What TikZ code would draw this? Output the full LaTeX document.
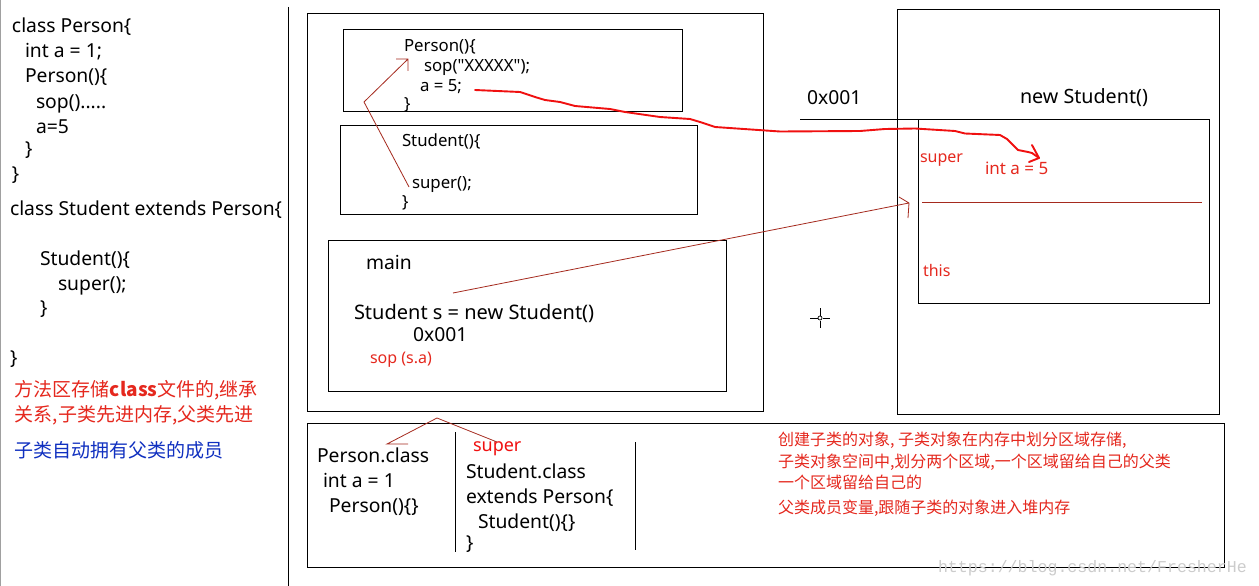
\documentclass[tikz,border=0pt]{standalone}
\usepackage{fontspec}
\setmainfont{Noto Sans}
\newfontfamily\latin{Noto Sans}
\newfontfamily\cjk{Noto Sans CJK SC}
\newfontfamily\wm{Liberation Mono}
\definecolor{inkred}{HTML}{E5281E}
\definecolor{penred}{HTML}{A52A1E}
\definecolor{brightred}{HTML}{F01010}
\definecolor{inkblue}{HTML}{1030C0}
\definecolor{edgegray}{HTML}{A0A0A0}
\definecolor{wmgray}{HTML}{CCCCCC}
\newcommand{\fs}[1]{\fontsize{#1}{#1}\selectfont}
\tikzset{
 x=1pt,y=-1pt,
 txt/.style={anchor=base west,inner sep=0pt,outer sep=0pt},
 code/.style={txt,font=\latin\fs{19.3},text=black},
 small/.style={txt,font=\latin\fs{16.8},text=black},
 redsmall/.style={txt,font=\latin\fs{16},text=inkred},
 zh/.style={txt,font=\cjk\fs{19},text=inkred},
 zhs/.style={txt,font=\cjk\fs{16},text=inkred},
 box/.style={draw=black,line width=1pt},
 pen/.style={draw=penred,line width=0.8pt},
 marker/.style={draw=brightred,line width=1.9pt,line join=round,line cap=round},
}
\begin{document}
\begin{tikzpicture}
\useasboundingbox (0,0) rectangle (1259,586);
\fill[white] (0,0) rectangle (1259,586);
\draw[edgegray,line width=1pt] (0.5,0) -- (0.5,586);
\coordinate (divT) at (288.5,7);
\coordinate (divB) at (288.5,586);
\draw[box] (divT) -- (divB);
% boxes
\draw[box] (307.5,13.5) rectangle (763.5,411.5);
\draw[box] (343.5,29.5) rectangle (682.5,111.5);
\draw[box] (340.5,125.5) rectangle (697.5,214.5);
\draw[box] (328.5,240.5) rectangle (726.5,391.5);
\draw[box] (897.5,9.5) rectangle (1219.5,414.5);
\draw[box] (918.5,119.5) rectangle (1209.5,303.5);
\draw[box] (307.5,423.5) rectangle (1224.5,567.5);
\coordinate (addrL) at (800,119.5);
\coordinate (addrR) at (918.5,119.5);
\draw[box] (addrL) -- (addrR);
\coordinate (v1T) at (455.5,432); \coordinate (v1B) at (455.5,552);
\coordinate (v2T) at (635.5,442); \coordinate (v2B) at (635.5,550);
\draw[box] (v1T) -- (v1B);
\draw[box] (v2T) -- (v2B);
% left code
\node[code] (l1) at (12,33) {class Person\{};
\node[code] (l2) at (25,58) {int a = 1;};
\node[code] (l3) at (25,83) {Person()\{};
\node[code] (l4) at (36,108) {sop().....};
\node[code] (l5) at (36,133) {a=5};
\node[code] (l6) at (25,155) {\}};
\node[code] (l7) at (12,180) {\}};
\node[code] (l8) at (10,215) {class Student extends Person\{};
\node[code] (l9) at (40,265) {Student()\{};
\node[code] (l10) at (58,290) {super();};
\node[code] (l11) at (40,314) {\}};
\node[code] (l12) at (10,364) {\}};
\node[zh] (z1) at (15,396) {方法区存储{\bfseries class}文件的,继承};
\node[zh] (z2) at (15,421) {关系,子类先进内存,父类先进};
\node[zh,text=inkblue] (z3) at (15,457) {子类自动拥有父类的成员};
% stack code
\node[small] (p1) at (404,52) {Person()\{};
\node[small] (p2) at (424,71) {sop("XXXXX");};
\node[small] (p3) at (420,92) {a = 5;};
\node[small] (p4) at (404,110) {\}};
\node[small] (s1) at (402,146) {Student()\{};
\node[small] (s2) at (412,188) {super();};
\node[small] (s3) at (402,207) {\}};
\node[code] (m1) at (366,269) {main};
\node[code,font=\latin\fs{20}] (m2) at (354,319) {Student s = new Student()};
\node[code] (m3) at (413,341) {0x001};
\node[redsmall] (m4) at (370,363) {sop (s.a)};
% heap
\node[code] (h1) at (807,105) {0x001};
\node[code,font=\latin\fs{19.7}] (h2) at (1020,103) {new Student()};
\node[redsmall] (h3) at (920,162) {super};
\node[redsmall,font=\latin\fs{17}] (h4) at (985,174) {int a = 5};
\node[redsmall] (h5) at (923,276) {this};
% method area
\node[code] (c1) at (317,462) {Person.class};
\node[code] (c2) at (323,487) {int a = 1};
\node[code] (c3) at (329,512) {Person()\{\}};
\node[txt,font=\latin\bfseries\fs{18},text=brightred] (c4) at (473,451) {super};
\node[code] (c5) at (466,478) {Student.class};
\node[code] (c6) at (466,503) {extends Person\{};
\node[code] (c7) at (478,528) {Student()\{\}};
\node[code] (c8) at (466,549) {\}};
\node[zhs] (n1) at (778,445) {创建子类的对象, 子类对象在内存中划分区域存储,};
\node[zhs] (n2) at (778,467) {子类对象空间中,划分两个区域,一个区域留给自己的父类};
\node[zhs] (n3) at (778,488) {一个区域留给自己的};
\node[zhs] (n4) at (778,513) {父类成员变量,跟随子类的对象进入堆内存};
% pen lines
\coordinate (a0) at (409,187); \coordinate (a1) at (364,102); \coordinate (a2) at (408,59);
\coordinate (a3) at (396,59); \coordinate (a4) at (408,71);
\draw[pen] (a0) -- (a1) -- (a2) (a3) -- (a2) -- (a4);
\coordinate (b0) at (453,293); \coordinate (b1) at (909,203);
\coordinate (b2) at (899,197); \coordinate (b3) at (908,218);
\draw[pen] (b0) -- (b1) (b2) -- (b1) -- (b3);
\coordinate (d0) at (922,202); \coordinate (d1) at (1202,202);
\draw[pen] (d0) -- (d1);
\coordinate (e0) at (497,442); \coordinate (e1) at (437,418); \coordinate (e2) at (387,444); \coordinate (e3) at (408,444);
\draw[pen] (e0) -- (e1) -- (e2) -- (e3);
% marker curve
\coordinate (r0) at (475,90); \coordinate (r1) at (1039,158);
\draw[marker] (r0) -- (520,92) -- (535,97) -- (545,100) -- (560,102) -- (575,106) -- (610,109) -- (625,112) -- (660,117) -- (690,119) -- (700,122) -- (715,127) -- (780,131.5) -- (860,131) -- (885,129) -- (915,128.5) -- (955,131) -- (965,133.5) -- (1000,135) -- (1007,139) -- (1018,150) -- (1028,152) -- (1032,153) -- (r1);
\coordinate (r2) at (1032,145); \coordinate (r3) at (1029,162);
\draw[marker] (r2) -- (r1) -- (r3);
% crosshair
\coordinate (x0) at (820,318);
\draw[black,line width=0.7pt] (x0) circle (2);
\draw[black,line width=0.7pt] (810,318) -- (817.5,318) (822.5,318) -- (830,318) (820,308) -- (820,315.5) (820,320.5) -- (820,328);
% watermark
\node[txt,font=\wm\fs{16.6},text=wmgray] (wm) at (938,572) {https://blog.csdn.net/FresherHe};
\end{tikzpicture}
\end{document}
